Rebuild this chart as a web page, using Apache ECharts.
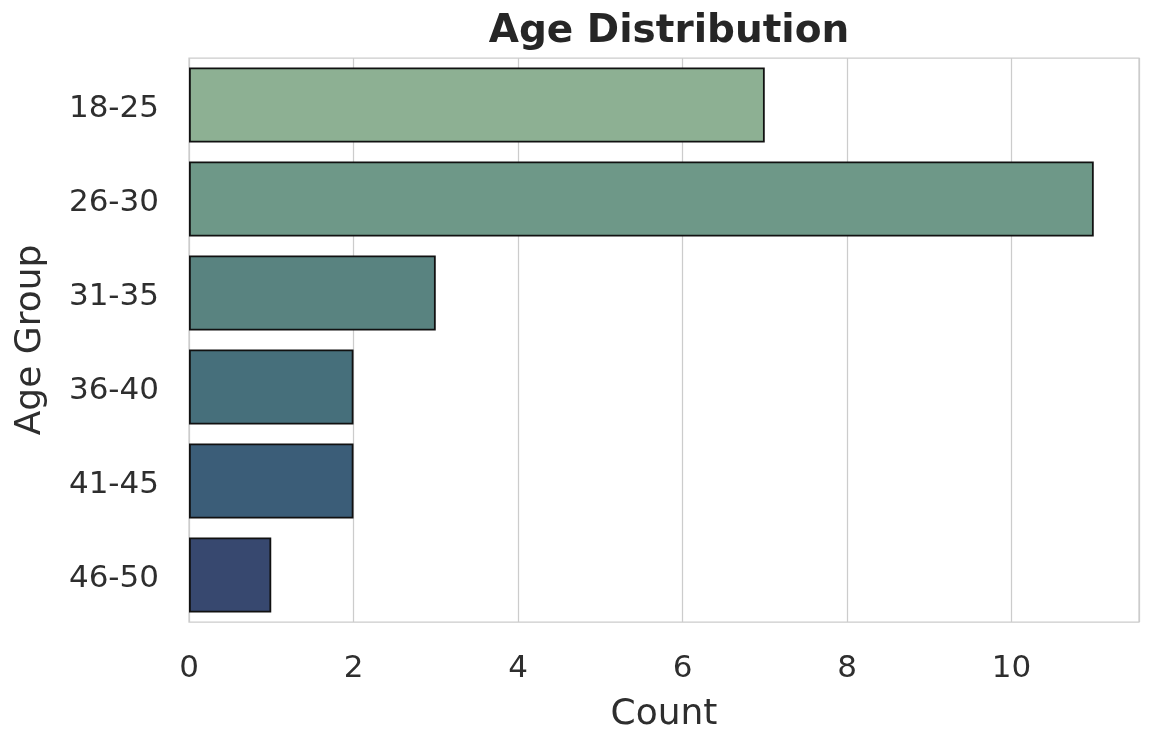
<!DOCTYPE html>
<html>
<head>
<meta charset="utf-8">
<script src="https://cdn.jsdelivr.net/npm/echarts@6/dist/echarts.min.js"></script>
<style>
html,body{margin:0;padding:0;background:#fff;}
#chart{width:1156px;height:740px;}
</style>
</head>
<body>
<div id="chart"></div>
<script>
const categories = ['18-25', '26-30', '31-35', '36-40', '41-45', '46-50'];
const counts = [7, 11, 3, 2, 2, 1];
const barColors = ['#8db093', '#6e9888', '#598380', '#466f7b', '#3b5d78', '#37486f'];
const xTicks = [0, 2, 4, 6, 8, 10];

const chart = echarts.init(document.getElementById('chart'));
const font = 'DejaVu Sans';
const textColor = '#2e2e2e';
chart.setOption({
  animation: false,
  backgroundColor: '#ffffff',
  title: {
    text: 'Age Distribution',
    left: 664,
    textAlign: 'center',
    top: 7,
    textStyle: { fontFamily: font, fontSize: 39, fontWeight: 'bold', color: '#262626' }
  },
  grid: {
    left: 189, right: 17, top: 58, bottom: 118,
    show: true, borderColor: '#cccccc', borderWidth: 1.25, backgroundColor: 'transparent'
  },
  xAxis: {
    type: 'value',
    min: 0,
    max: 11.55,
    interval: 2,
    name: 'Count',
    nameLocation: 'middle',
    nameGap: 75,
    nameTextStyle: { fontFamily: font, fontSize: 36, color: textColor },
    axisLine: { show: false },
    axisTick: { show: false },
    axisLabel: {
      fontFamily: font, fontSize: 31, color: textColor, margin: 31,
      formatter: v => (xTicks.indexOf(v) >= 0 ? String(v) : '')
    },
    splitLine: { show: true, lineStyle: { color: '#cccccc', width: 1.25 } }
  },
  yAxis: {
    type: 'category',
    data: categories,
    inverse: true,
    name: 'Age Group',
    nameLocation: 'middle',
    nameGap: 140,
    nameTextStyle: { fontFamily: font, fontSize: 36, color: textColor },
    axisLine: { show: false },
    axisTick: { show: false },
    axisLabel: {
      margin: 30,
      formatter: v => '{a|' + v + '}',
      rich: { a: { fontFamily: font, fontSize: 31, color: textColor, padding: [7, 0, 0, 0] } }
    },
    splitLine: { show: false }
  },
  series: [{
    type: 'bar',
    barCategoryGap: '20%',
    data: counts.map((v, i) => ({
      value: v,
      itemStyle: { color: barColors[i], borderColor: '#111111', borderWidth: 1.8 }
    }))
  }]
});
</script>
</body>
</html>
